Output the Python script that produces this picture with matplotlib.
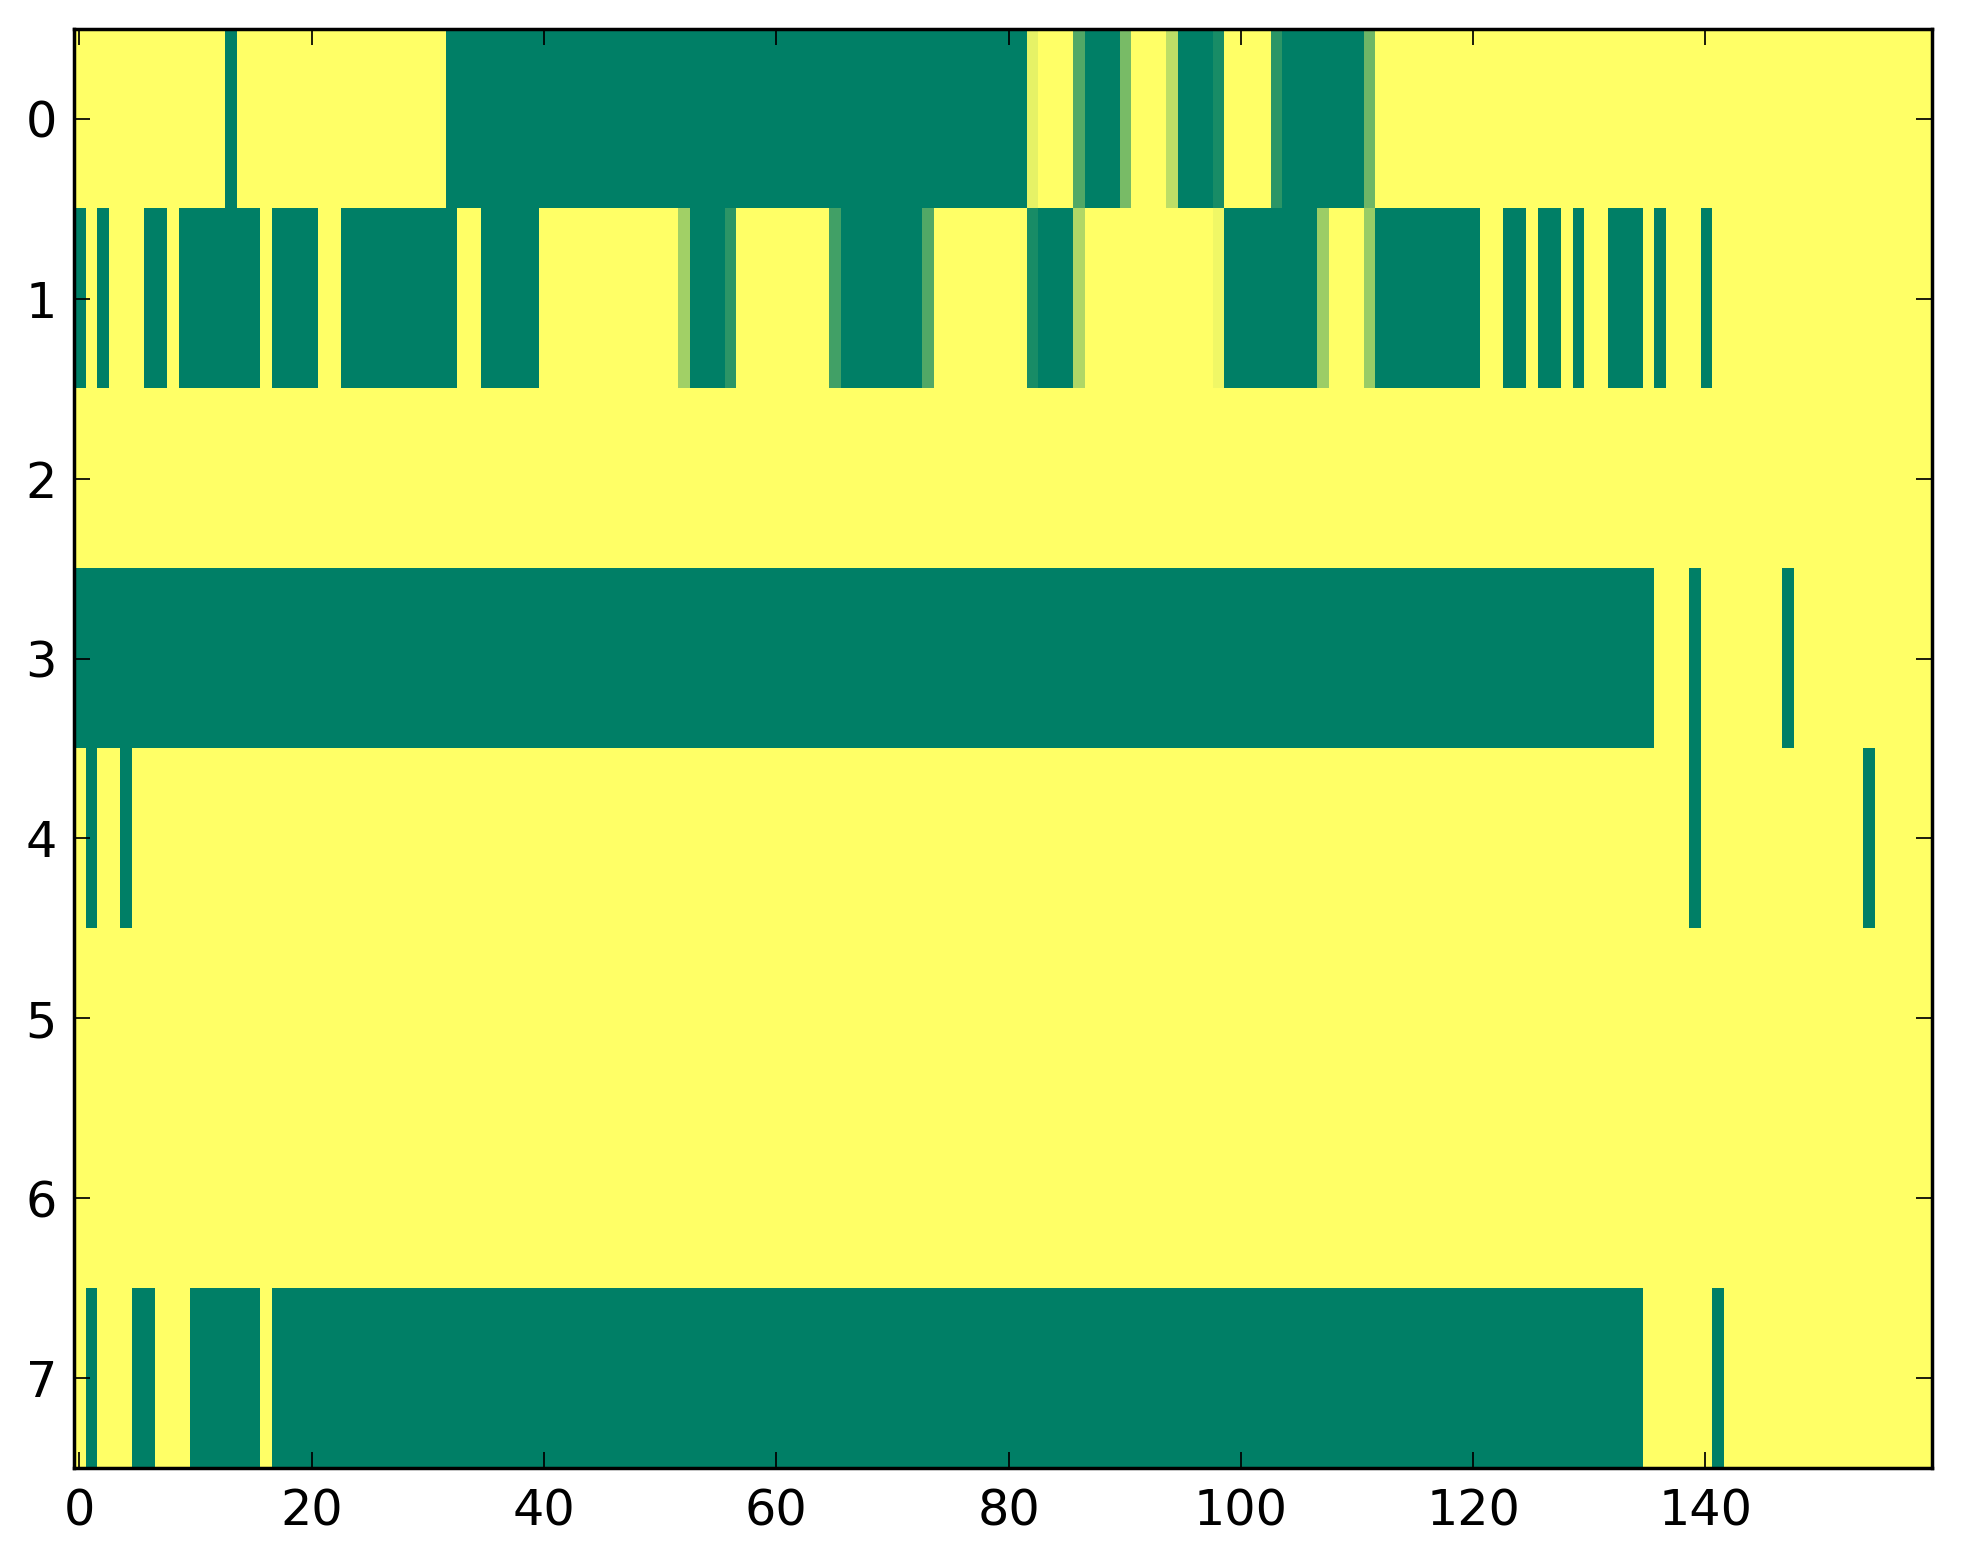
import numpy as np
import matplotlib
matplotlib.use("Agg")
import matplotlib.pyplot as plt

n_cols = 160
n_rows = 8

# runs of fully "on" cells per row, (first col, last col) inclusive
row0_on = [(13, 13), (32, 81), (87, 89), (95, 97), (104, 110)]
row1_on = [(0, 0), (2, 2), (6, 7), (9, 15), (17, 20), (23, 32), (35, 39),
           (53, 55), (66, 72), (83, 85), (99, 106), (112, 120), (123, 124),
           (126, 127), (129, 129), (132, 134), (136, 136), (140, 140)]
row2_on = []
row3_on = [(0, 135), (139, 139), (147, 147)]
row4_on = [(1, 1), (4, 4), (139, 139), (154, 154)]
row5_on = []
row6_on = []
row7_on = [(1, 1), (5, 6), (10, 15), (17, 134), (141, 141)]

# partial cells (col, value)
row0_part = [(82, 0.10), (86, 0.68), (90, 0.53), (94, 0.26), (98, 0.90),
             (103, 0.83), (111, 0.57)]
row1_part = [(52, 0.37), (56, 0.83), (65, 0.74), (73, 0.68), (82, 0.90),
             (86, 0.31), (98, 0.06), (107, 0.39), (111, 0.40)]

rows_on = [row0_on, row1_on, row2_on, row3_on, row4_on, row5_on, row6_on, row7_on]
rows_part = {0: row0_part, 1: row1_part}

data = np.zeros((n_rows, n_cols))
for r, runs in enumerate(rows_on):
    for a, b in runs:
        data[r, a:b + 1] = 1.0
for r, cells in rows_part.items():
    for c, v in cells:
        data[r, c] = v

dpi = 250
fig = plt.figure(figsize=(1963 / dpi, 1564 / dpi), dpi=dpi)
ax = fig.add_axes([0.0375, 0.0614, 0.9467, 0.9201])
ax.imshow(data, cmap='summer_r', vmin=0, vmax=1, interpolation='nearest',
          aspect='auto')

ax.set_xlim(-0.5, n_cols - 0.5)
ax.set_ylim(n_rows - 0.5, -0.5)
ax.set_xticks(np.arange(0, 141, 20))
ax.set_yticks(np.arange(0, 8))

for sp in ax.spines.values():
    sp.set_linewidth(1.0)
ax.tick_params(which='both', direction='in', top=True, right=True,
               length=4.5, width=0.5, labelsize=14.2)
ax.tick_params(axis='x', pad=5.6)
ax.tick_params(axis='y', pad=4.8)

fig.savefig('out.png', dpi=dpi)
